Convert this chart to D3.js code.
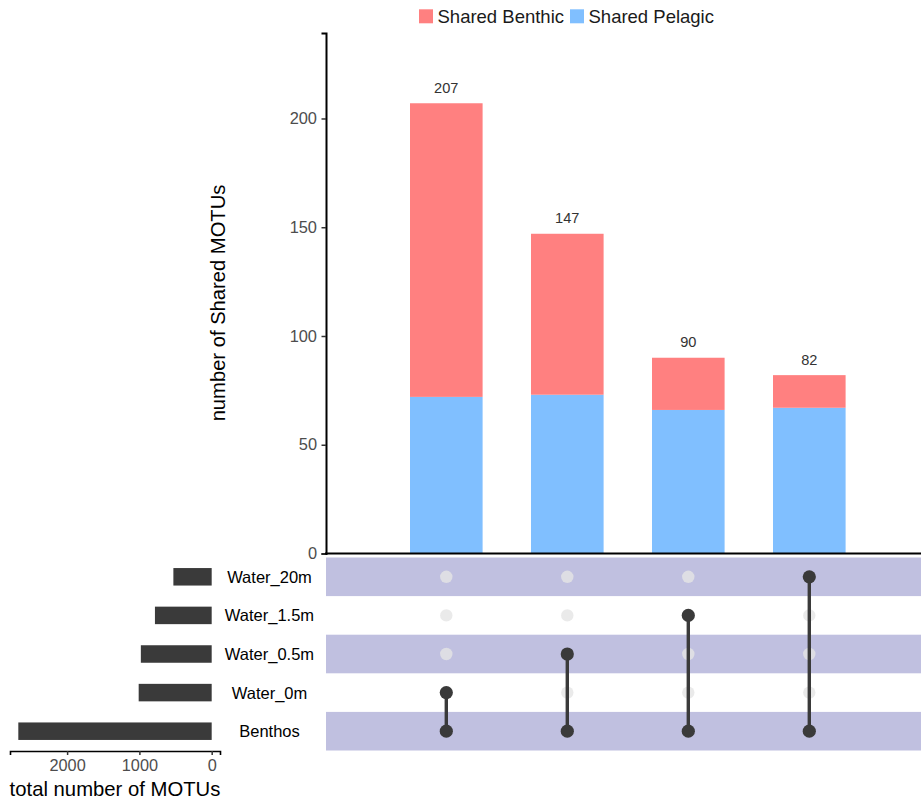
<!DOCTYPE html>
<html>
<head>
<meta charset="utf-8">
<script src="https://cdn.jsdelivr.net/npm/d3@7"></script>
<style>
  html, body { margin: 0; padding: 0; background: #fff; }
  svg { display: block; font-family: "Liberation Sans", Arial, sans-serif; }
</style>
</head>
<body>
<svg id="chart" width="921" height="800"></svg>
<script>
// Set intersections (each paired with Benthos) and their shared MOTU counts
const intersections = ["Benthos & Water_0m", "Benthos & Water_0.5m", "Benthos & Water_1.5m", "Benthos & Water_20m"];
const intersectionMembers = [
  ["Benthos", "Water_0m"],
  ["Benthos", "Water_0.5m"],
  ["Benthos", "Water_1.5m"],
  ["Benthos", "Water_20m"]
];
const sharedPelagic = [72, 73, 66, 67];
const sharedBenthic = [135, 74, 24, 15];
const seriesNames = ["Shared Benthic", "Shared Pelagic"];
const seriesColors = ["#ff8080", "#80bfff"];
const countTicks = [0, 50, 100, 150, 200];

// Sets, top to bottom, and their total MOTU counts
const sets = ["Water_20m", "Water_1.5m", "Water_0.5m", "Water_0m", "Benthos"];
const setSizes = [530, 785, 980, 1010, 2675];
const sizeTicks = [0, 1000, 2000];

const svg = d3.select("#chart");
const tickGrey = "#4d4d4d";
const dark = "#3a3a3a";

// ---- scales ----
const x = d3.scaleBand().domain(intersections).range([385.8, 869.8])
  .paddingInner(0.4).paddingOuter(0.2);
const y = d3.scaleLinear().domain([0, 239.3]).range([553.5, 33]);
const rowY = d3.scaleBand().domain(sets).range([557.5, 750.5]);
const sizeX = d3.scaleLinear().domain([-115, 2790]).range([220, 10]);

// ---- matrix stripes ----
svg.append("g").selectAll("rect")
  .data(sets.filter((d, i) => i % 2 === 0))
  .join("rect")
  .attr("x", 326).attr("width", 921 - 326)
  .attr("y", d => rowY(d)).attr("height", rowY.bandwidth())
  .attr("fill", "#c0c0e0");

// ---- stacked bars ----
const stackRows = intersections.map((k, i) => ({
  key: k, "Shared Pelagic": sharedPelagic[i], "Shared Benthic": sharedBenthic[i]
}));
const stack = d3.stack().keys(["Shared Pelagic", "Shared Benthic"])(stackRows);
const color = d3.scaleOrdinal().domain(seriesNames).range(seriesColors);

svg.append("g").selectAll("g")
  .data(stack).join("g")
  .attr("fill", s => color(s.key))
  .selectAll("rect")
  .data(s => s).join("rect")
  .attr("x", d => x(d.data.key))
  .attr("width", x.bandwidth())
  .attr("y", d => y(d[1]))
  .attr("height", d => y(d[0]) - y(d[1]));

// total labels above bars
svg.append("g").selectAll("text")
  .data(stackRows).join("text")
  .attr("x", d => x(d.key) + x.bandwidth() / 2)
  .attr("y", d => y(d["Shared Pelagic"] + d["Shared Benthic"]) - 10.5)
  .attr("text-anchor", "middle")
  .attr("font-size", 14.6)
  .attr("fill", "#333")
  .text(d => d["Shared Pelagic"] + d["Shared Benthic"]);

// ---- count axis ----
const yAxis = svg.append("g")
  .attr("transform", "translate(326,0)")
  .call(d3.axisLeft(y).tickValues(countTicks).tickFormat(d3.format("d"))
    .tickSize(4.5).tickPadding(4.5));
yAxis.select(".domain").attr("stroke", "#000").attr("stroke-width", 2);
yAxis.selectAll(".tick line").attr("stroke", "#333").attr("stroke-width", 1.5);
yAxis.selectAll(".tick text").attr("font-size", 16.4).attr("fill", tickGrey)
  .attr("font-family", "Liberation Sans, Arial, sans-serif");

svg.append("line")
  .attr("x1", 325).attr("x2", 921)
  .attr("y1", y(0)).attr("y2", y(0))
  .attr("stroke", "#000").attr("stroke-width", 2);

svg.append("text")
  .attr("transform", "translate(225,303) rotate(-90)")
  .attr("text-anchor", "middle")
  .attr("font-size", 20.2)
  .attr("fill", "#000")
  .text("number of Shared MOTUs");

// ---- legend ----
const legendItems = [
  { name: seriesNames[0], x: 419 },
  { name: seriesNames[1], x: 570 }
];
const lg = svg.append("g").selectAll("g").data(legendItems).join("g")
  .attr("transform", d => `translate(${d.x},9.3)`);
lg.append("rect").attr("width", 14).attr("height", 14).attr("fill", d => color(d.name));
lg.append("text").attr("x", 18.5).attr("y", 13.8)
  .attr("font-size", 18.5).attr("fill", "#1a1a1a").text(d => d.name);

// ---- matrix dots and connectors ----
const cols = intersections.map((k, i) => ({ key: k, members: intersectionMembers[i] }));
const cx = k => x(k) + x.bandwidth() / 2;
const cy = s => rowY(s) + rowY.bandwidth() / 2;

const dotCells = [];
cols.forEach(c => sets.forEach(s => dotCells.push({ key: c.key, set: s, on: c.members.includes(s) })));

svg.append("g").selectAll("circle")
  .data(dotCells.filter(d => !d.on)).join("circle")
  .attr("cx", d => cx(d.key)).attr("cy", d => cy(d.set))
  .attr("r", 6.2)
  .attr("fill", "#e5e5e5").attr("fill-opacity", 0.8);

svg.append("g").selectAll("line")
  .data(cols).join("line")
  .attr("x1", d => cx(d.key)).attr("x2", d => cx(d.key))
  .attr("y1", d => d3.min(d.members, cy)).attr("y2", d => d3.max(d.members, cy))
  .attr("stroke", dark).attr("stroke-width", 3.4);

svg.append("g").selectAll("circle")
  .data(dotCells.filter(d => d.on)).join("circle")
  .attr("cx", d => cx(d.key)).attr("cy", d => cy(d.set))
  .attr("r", 6.6)
  .attr("fill", dark);

// ---- set size bars ----
const barH = 17.5;
svg.append("g").selectAll("rect")
  .data(sets.map((s, i) => ({ set: s, size: setSizes[i] }))).join("rect")
  .attr("x", d => sizeX(d.size))
  .attr("width", d => sizeX(0) - sizeX(d.size))
  .attr("y", d => cy(d.set) - barH / 2)
  .attr("height", barH)
  .attr("fill", dark);

// set names
svg.append("g").selectAll("text")
  .data(sets).join("text")
  .attr("x", 269.5).attr("y", d => cy(d) + 6)
  .attr("text-anchor", "middle")
  .attr("font-size", 16.5)
  .attr("fill", "#000")
  .text(d => d);

// set size axis
const sAxis = svg.append("g")
  .attr("transform", "translate(0,751)")
  .call(d3.axisBottom(sizeX).tickValues(sizeTicks).tickFormat(d3.format("d"))
    .tickSize(4).tickPadding(4.5));
sAxis.select(".domain").attr("stroke", "#000").attr("stroke-width", 1.6);
sAxis.selectAll(".tick line").attr("stroke", "#333").attr("stroke-width", 1.5);
sAxis.selectAll(".tick text").attr("font-size", 16.3).attr("fill", tickGrey)
  .attr("font-family", "Liberation Sans, Arial, sans-serif");

svg.append("text")
  .attr("x", 115).attr("y", 796)
  .attr("text-anchor", "middle")
  .attr("font-size", 20.3)
  .attr("fill", "#000")
  .text("total number of MOTUs");
</script>
</body>
</html>
